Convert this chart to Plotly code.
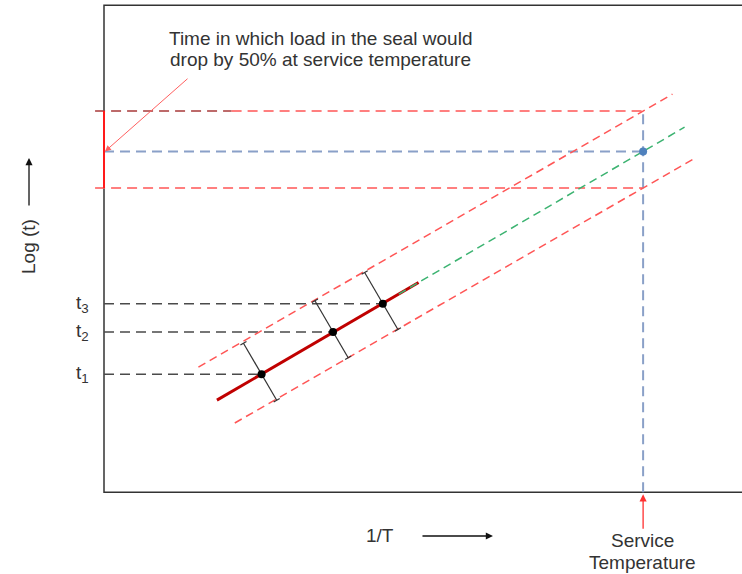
import numpy as np
import plotly.graph_objects as go

# Accelerated-ageing test points: 1/T against log(t)
inv_T = [2.47, 3.59, 4.37]
log_t = [2.42, 3.29, 3.87]
t_labels = ["t<sub>1</sub>", "t<sub>2</sub>", "t<sub>3</sub>"]

# Service condition on the 1/T axis
inv_T_service = 8.45

# Confidence band lines (slope, intercept) and their drawn extents
band_slope = [0.7535, 0.7535]
band_intercept = [1.454, -0.124]          # upper, lower
band_x_start = [1.48, 2.05]
band_x_end = [8.91, 9.23]

# Extent of the fitted line and its extrapolation
fit_x_range = [1.77, 4.93]
extrap_x_range = [4.62, 9.10]

# Screen scale (pixels per data unit) used for the perpendicular scatter bars
PX_X = 63.8
PX_Y = 48.74
BAR_UP_PX = 36
BAR_DN_PX = 30
CAP_PX = 3.5

slope, intercept = np.polyfit(inv_T, log_t, 1)


def fit(x):
    return intercept + slope * np.asarray(x, dtype=float)


def band(i, x):
    return band_intercept[i] + band_slope[i] * np.asarray(x, dtype=float)


y_mid = float(fit(inv_T_service))
y_hi = float(band(0, inv_T_service))
y_lo = float(band(1, inv_T_service))

FONT = "Liberation Sans, Arial, sans-serif"
RED_DASH = "#ff5555"
dash_h = "10px,6px"
dash_d = "8px,5px"

fig = go.Figure()


def seg(xs, ys, color, width, dash=None):
    fig.add_trace(go.Scatter(
        x=xs, y=ys, mode="lines", hoverinfo="skip", showlegend=False,
        line=dict(color=color, width=width, dash=dash)))


# frame (left, top, bottom)
seg([10, 0, 0, 10], [9.99, 9.99, 0, 0], "#333333", 1.5)

# horizontal guide lines at the band limits
seg([-0.14, 2.0], [y_hi, y_hi], "#a83a3a", 1.5, dash_h)
seg([2.0, inv_T_service], [y_hi, y_hi], RED_DASH, 1.5, dash_h)
seg([-0.14, inv_T_service], [y_lo, y_lo], RED_DASH, 1.5, dash_h)

# service temperature guides
seg([0, inv_T_service], [y_mid, y_mid], "#8aa0c8", 2, dash_h)
seg([inv_T_service, inv_T_service], [0, y_hi], "#8aa0c8", 2, dash_h)

# spread of the 50% load drop time at service temperature
seg([0, 0], [y_lo, y_hi], "#ff1a1a", 2)

# test times projected to the axis
for xi, yi in zip(inv_T, log_t):
    seg([0, xi], [yi, yi], "#4a4a4a", 1.5, dash_h)

# confidence bands
for i in range(2):
    xs = [band_x_start[i], band_x_end[i]]
    seg(xs, band(i, xs).tolist(), RED_DASH, 1.5, dash_d)

# fitted line and extrapolation
seg(fit_x_range, fit(fit_x_range).tolist(), "#c00000", 3)
seg(extrap_x_range, fit(extrap_x_range).tolist(), "#3cb371", 1.5, dash_d)

# scatter bars perpendicular to the fitted line (in screen space)
dxp, dyp = PX_X, -slope * PX_Y
norm = np.hypot(dxp, dyp)
ux, uy = dxp / norm, dyp / norm           # along the line, screen px
bx, by = [], []
for xi, yi in zip(inv_T, log_t):
    top = (xi - abs(uy) * BAR_UP_PX / PX_X, yi + abs(ux) * BAR_UP_PX / PX_Y)
    bot = (xi + abs(uy) * BAR_DN_PX / PX_X, yi - abs(ux) * BAR_DN_PX / PX_Y)
    bx += [top[0], bot[0], None]
    by += [top[1], bot[1], None]
    for ex, ey in (top, bot):
        cx, cy = ux * CAP_PX / PX_X, -uy * CAP_PX / PX_Y
        bx += [ex - cx, ex + cx, None]
        by += [ey - cy, ey + cy, None]
seg(bx, by, "#333333", 1.2)

# test points and extrapolated service point
fig.add_trace(go.Scatter(
    x=inv_T, y=log_t, mode="markers", hoverinfo="skip", showlegend=False,
    marker=dict(color="black", size=8)))
fig.add_trace(go.Scatter(
    x=[inv_T_service], y=[y_mid], mode="markers", hoverinfo="skip", showlegend=False,
    marker=dict(color="#4f81bd", size=8)))

txt = dict(family=FONT, size=19, color="#333333")
P = dict(xref="paper", yref="paper")
ann = [
    dict(x=3.386, y=9.315, text="Time in which load in the seal would", showarrow=False),
    dict(x=3.386, y=8.884, text="drop by 50% at service temperature", showarrow=False),
    dict(x=0.016, y=y_mid, text="", showarrow=True, ax=84, ay=-74,
         arrowcolor="#ff6060", arrowwidth=1, arrowhead=2, arrowsize=1.2, standoff=0),
    dict(x=-0.1003, y=0.508, text="Log (t)", textangle=-90, showarrow=False, **P),
    dict(x=-0.1003, y=0.6853, text="", showarrow=True, ax=0, ay=49,
         arrowcolor="#111111", arrowwidth=1.3, arrowhead=2, arrowsize=1.1, standoff=0, **P),
    dict(x=0.4414, y=-0.0677, text="1/T", showarrow=False, **P),
    dict(x=0.6157, y=-0.0677, text="", showarrow=True, ax=-72, ay=0,
         arrowcolor="#111111", arrowwidth=1.3, arrowhead=2, arrowsize=1.1, standoff=0, **P),
    dict(x=0.8472, y=-0.0757, text="Service", showarrow=False, **P),
    dict(x=0.8472, y=-0.1215, text="Temperature", showarrow=False, **P),
    dict(x=inv_T_service, y=-0.041, text="", showarrow=True, ax=0, ay=36,
         arrowcolor="#ff3030", arrowwidth=1.3, arrowhead=2, arrowsize=1.1, standoff=0),
]
for lab, yi in zip(t_labels, log_t):
    ann.append(dict(x=0, y=yi, text=lab, showarrow=False, xanchor="right", xshift=-13))
for a in ann:
    a.setdefault("xref", "x")
    a.setdefault("yref", "y")
    a.setdefault("xanchor", "center")
    a.setdefault("yanchor", "middle")
    a.setdefault("font", txt)

fig.update_layout(
    width=742, height=574, autosize=False,
    margin=dict(l=94, r=0, t=0, b=72),
    paper_bgcolor="white", plot_bgcolor="white",
    xaxis=dict(range=[-10 / PX_X, 10.0], visible=False, fixedrange=True),
    yaxis=dict(range=[-0.2, 10.1], visible=False, fixedrange=True),
    annotations=ann,
)

fig.write_html("out.html", include_plotlyjs=True, config={"displayModeBar": False})
